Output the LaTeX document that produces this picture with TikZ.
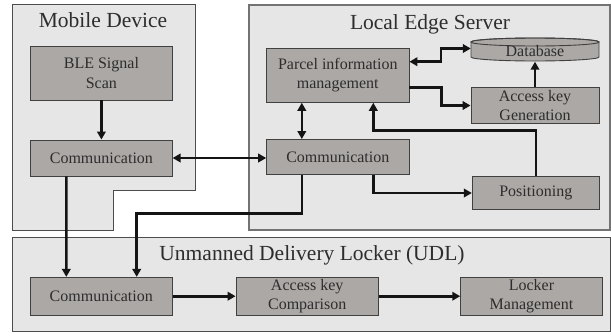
\documentclass[tikz,border=0pt]{standalone}
\usepackage{fontspec}
\setmainfont{Liberation Serif}
\usetikzlibrary{arrows.meta,calc}
\definecolor{regfill}{RGB}{230,230,230}
\definecolor{boxfill}{RGB}{172,168,166}
\definecolor{txt}{RGB}{45,45,45}
\definecolor{ln}{RGB}{20,20,20}
\begin{document}
\begin{tikzpicture}[x=1pt,y=-1pt,
  box/.style={draw=black!75, line width=0.9pt, fill=boxfill, text=txt,
    font=\fontsize{16}{19.5}\selectfont, align=center, inner sep=0pt},
  ttl/.style={text=txt, font=\fontsize{21.5}{24}\selectfont, anchor=base, inner sep=0pt},
  region/.style={fill=regfill, draw=black!70, line width=0.9pt},
  conn/.style={draw=ln, line width=2.6pt, -{Triangle[length=8pt,width=8.5pt]}},
  both/.style={draw=ln, line width=2.6pt, {Triangle[length=8pt,width=8.5pt]}-{Triangle[length=8pt,width=8.5pt]}}]
\useasboundingbox (0,0) rectangle (611,335);
\fill[white] (0,0) rectangle (611,335);

% regions
\draw[region] (12,4.5) -- (195,4.5) -- (195,190) -- (113,190) -- (113,230) -- (12,230) -- cycle;
\draw[region, draw=black!55, line width=1.2pt] (249,5) rectangle (610,230);
\draw[region] (12.3,237.7) rectangle (610,331.7);

% titles
\node[ttl] (tmob) at (103,27.7) {Mobile Device};
\node[ttl] (tles) at (430,29.5) {Local Edge Server};
\node[ttl] (tudl) at (312,260) {Unmanned Delivery Locker (UDL)};

% boxes
\node[box, minimum width=141.5pt, minimum height=54pt] (ble) at (101.4,73) {BLE Signal\\Scan};
\node[box, minimum width=141.5pt, minimum height=36pt] (mcomm) at (101.4,158) {Communication};
\node[box, minimum width=142.3pt, minimum height=54pt] (pim) at (337.8,75.3) {Parcel information\\management};
\node[box, minimum width=142.3pt, minimum height=35pt] (scomm) at (337.8,157) {Communication};
\node[box, minimum width=128pt, minimum height=35.6pt] (akg) at (535,105.5) {Access key\\Generation};
\node[box, minimum width=127pt, minimum height=32.6pt] (pos) at (535.8,193) {Positioning};
\node[box, minimum width=142pt, minimum height=37.7pt] (ucomm) at (101.3,296.2) {Communication};
\node[box, minimum width=142.3pt, minimum height=37.7pt] (akc) at (307.2,296.2) {Access key\\Comparison};
\node[box, minimum width=141.6pt, minimum height=37.7pt] (lm) at (531.5,296.2) {Locker\\Management};

% database cylinder
\filldraw[fill=boxfill, draw=black!75, line width=0.9pt]
  (471,42) -- (471,57) arc[start angle=180, end angle=0, x radius=64, y radius=4]
  -- (599,42) arc[start angle=0, end angle=-180, x radius=64, y radius=4] -- cycle;
\draw[black!75, line width=0.9pt] (535,42) ellipse [x radius=64, y radius=4];
\node[text=txt, font=\fontsize{16}{19.5}\selectfont, inner sep=0pt, minimum width=128pt, minimum height=20pt] (db) at (535,51.5) {Database};

% connectors
\draw[conn] (ble.south) -- (mcomm.north);
\draw[both] (mcomm.east) -- (mcomm.east -| scomm.west);
\draw[both] ([xshift=-36pt]pim.south) -- ([xshift=-36pt]scomm.north);
\draw[both] ([yshift=3pt]db.west) -- ++(-30,0) |- ([yshift=13.6pt]pim.east);
\draw[conn] ([yshift=-12.4pt]pim.east) -- ++(32,0) |- (akg.west);
\draw[conn] (akg.north) -- (db.south);
\draw[conn] (pos.north) -- ++(0,-46) -| ([xshift=35.5pt]pim.south);
\draw[conn] ([xshift=35.5pt]scomm.south) |- (pos.west);
\draw[conn] ([xshift=-36pt]scomm.south) -- ++(0,38.8) -| ([xshift=35.4pt]ucomm.north);
\draw[conn] ([xshift=-35pt]mcomm.south) -- ([xshift=-35pt]ucomm.north);
\draw[conn] (ucomm.east) -- (akc.west);
\draw[conn] (akc.east) -- (lm.west);
\end{tikzpicture}
\end{document}
